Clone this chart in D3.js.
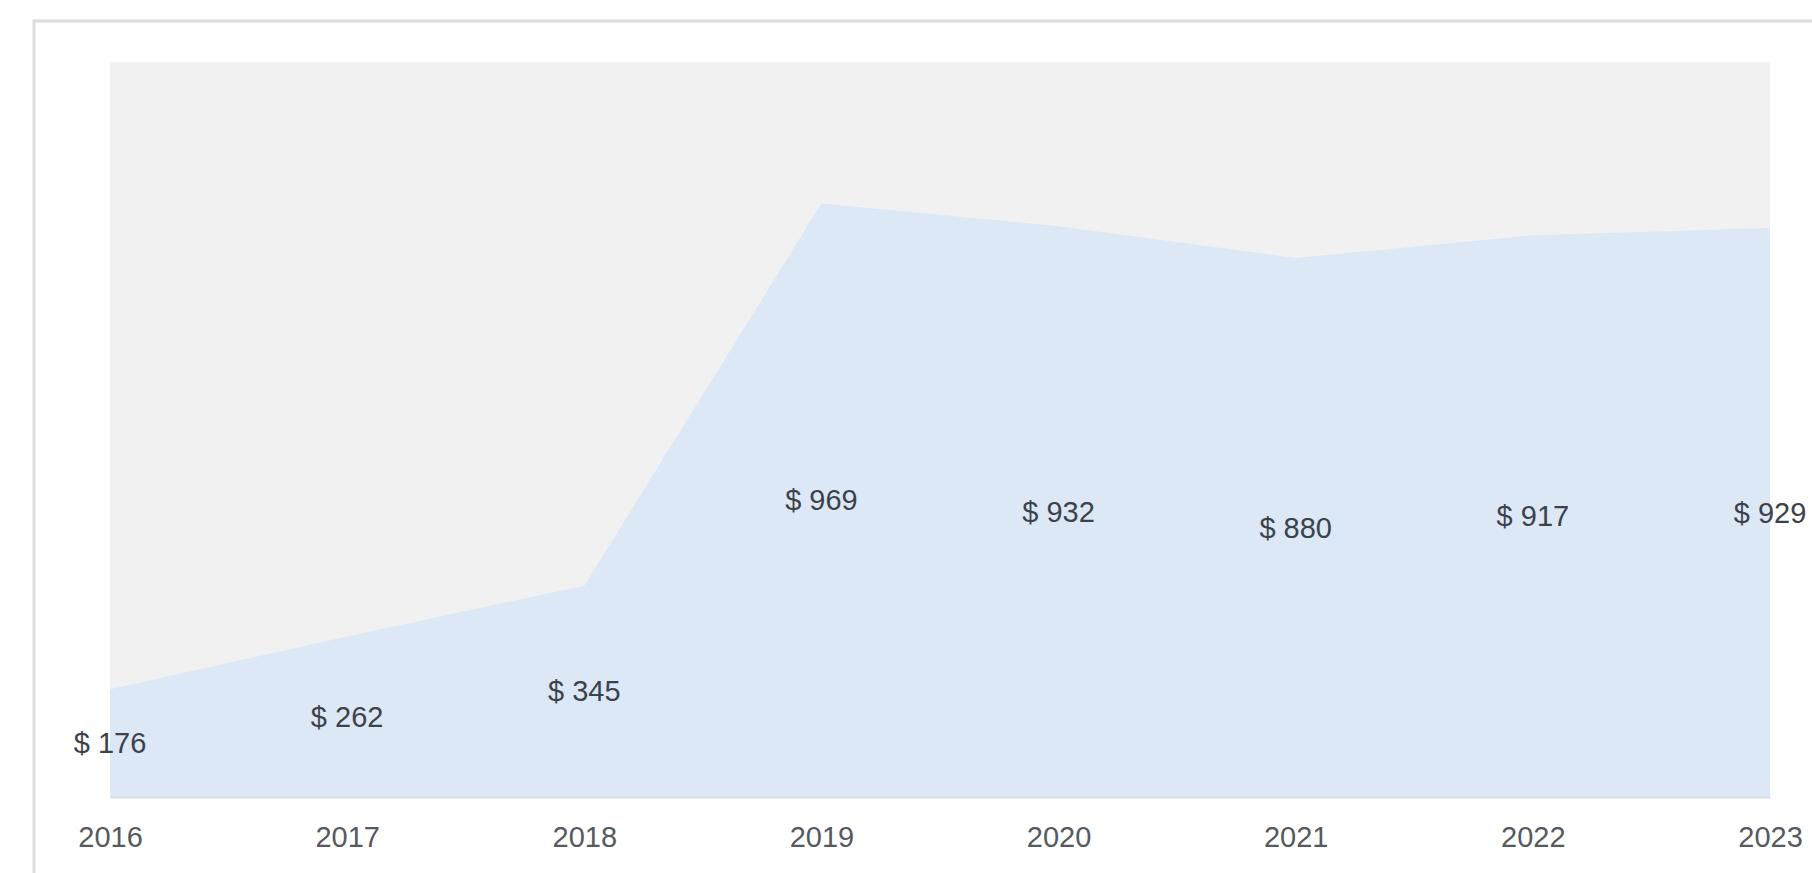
<!DOCTYPE html>
<html>
<head>
<meta charset="utf-8">
<script src="https://cdn.jsdelivr.net/npm/d3@7"></script>
<style>
  html, body { margin: 0; padding: 0; background: #ffffff; overflow: hidden; }
  svg { display: block; }
</style>
</head>
<body>
<svg id="chart" width="1812" height="873"></svg>
<script>
const years = ["2016", "2017", "2018", "2019", "2020", "2021", "2022", "2023"];
const values = [176, 262, 345, 969, 932, 880, 917, 929];
const yDomain = [0, 1200];

const W = 1812, H = 873;
const plot = { left: 110, right: 1770, top: 62, bottom: 797 };

const svg = d3.select("#chart");

// card
svg.append("rect")
  .attr("x", 34).attr("y", 21)
  .attr("width", 2000).attr("height", 1200)
  .attr("fill", "#ffffff")
  .attr("stroke", "#dcdcdc")
  .attr("stroke-width", 3);

const x = d3.scalePoint().domain(years).range([plot.left, plot.right]);
const y = d3.scaleLinear().domain(yDomain).range([plot.bottom, plot.top]);

// plot background
svg.append("rect")
  .attr("x", plot.left).attr("y", plot.top)
  .attr("width", plot.right - plot.left)
  .attr("height", plot.bottom - plot.top)
  .attr("fill", "#f1f1f1");

const data = years.map((yr, i) => ({ yr, v: values[i] }));

const area = d3.area()
  .x(d => x(d.yr))
  .y0(y(0))
  .y1(d => y(d.v));

svg.append("path")
  .datum(data)
  .attr("d", area)
  .attr("fill", "#dce8f5");

// baseline axis
const xAxis = d3.axisBottom(x).tickSize(0).tickPadding(29);
const gx = svg.append("g")
  .attr("transform", `translate(0,${y(0)})`)
  .call(xAxis);
gx.select(".domain").attr("stroke", "#d6d9dd").attr("stroke-width", 2);
gx.selectAll("text")
  .attr("font-family", "'Liberation Sans', Arial, sans-serif")
  .attr("font-size", 29)
  .attr("fill", "#555a60");

// value labels at half height
svg.append("g").selectAll("text")
  .data(data)
  .join("text")
  .attr("x", d => x(d.yr))
  .attr("y", d => y(d.v / 2))
  .attr("dy", "0.35em")
  .attr("text-anchor", "middle")
  .attr("font-family", "'Liberation Sans', Arial, sans-serif")
  .attr("font-size", 29)
  .attr("fill", "#3c424b")
  .text(d => "$ " + d.v);
</script>
</body>
</html>
